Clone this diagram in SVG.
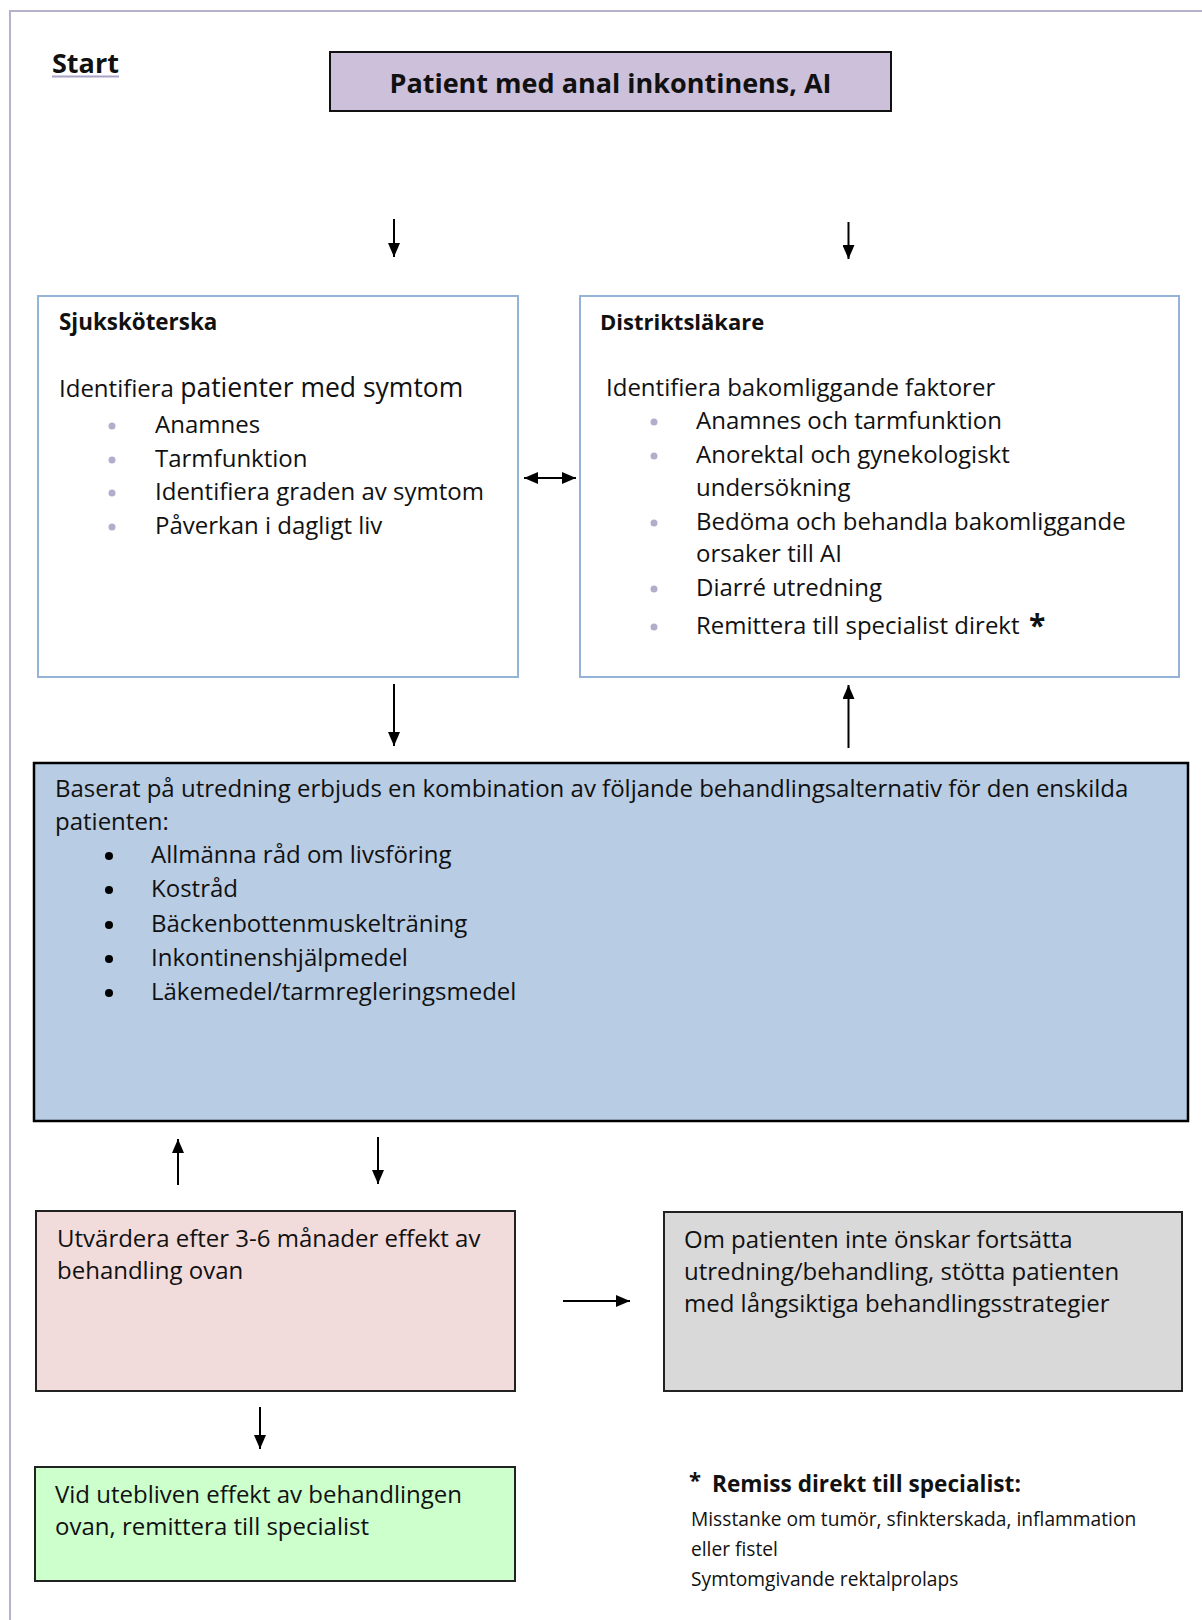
<svg xmlns="http://www.w3.org/2000/svg" width="1202" height="1620" viewBox="0 0 1202 1620">
<defs>
<style>
text{font-family:"Open Sans","Noto Sans",Lato,sans-serif;fill:#111;}
.b{font-weight:bold;}
.t{font-size:24px;}
.bl{font-size:24px;}
.fn{font-size:19.2px;}
.conn line{stroke:#000;stroke-width:2;}
.dot{fill:#b1aecb;}
.bdot{fill:#000;}
</style>
<marker id="ah" viewBox="0 0 14 12" refX="14" refY="6" markerWidth="14" markerHeight="12" markerUnits="userSpaceOnUse" orient="auto-start-reverse">
<path d="M0,0 L14,6 L0,12 z" fill="#000"/>
</marker>
</defs>
<rect width="1202" height="1620" fill="#fff"/>
<path d="M10,1620 V11 H1202" fill="none" stroke="#b4b2cc" stroke-width="2"/>

<g id="start">
<text class="b" x="52" y="73" font-size="27">Start</text>
<line x1="52" y1="76.5" x2="119" y2="76.5" stroke="#a7a4c8" stroke-width="2"/>
</g>

<g id="patient">
<rect x="330" y="52" width="561" height="59" fill="#ccc0da" stroke="#111" stroke-width="2"/>
<text class="b" x="610.5" y="93" font-size="27" text-anchor="middle">Patient med anal inkontinens, AI</text>
</g>

<g id="sjukskoterska">
<rect x="38" y="296" width="480" height="381" fill="#fff" stroke="#95b3d7" stroke-width="2"/>
<text class="b" x="59" y="330" font-size="22.4">Sjuksköterska</text>
<text x="59" y="397"><tspan font-size="24">Identifiera </tspan><tspan font-size="26.5">patienter med symtom</tspan></text>
<circle class="dot" cx="112" cy="426" r="3.5"/>
<circle class="dot" cx="112" cy="460" r="3.5"/>
<circle class="dot" cx="112" cy="493" r="3.5"/>
<circle class="dot" cx="112" cy="527" r="3.5"/>
<text class="t" x="155" y="433">Anamnes</text>
<text class="t" x="155" y="467">Tarmfunktion</text>
<text class="t" x="155" y="500">Identifiera graden av symtom</text>
<text class="t" x="155" y="534">Påverkan i dagligt liv</text>
</g>

<g id="distriktslakare">
<rect x="580" y="296" width="599" height="381" fill="#fff" stroke="#95b3d7" stroke-width="2"/>
<text class="b" x="600" y="330" font-size="22">Distriktsläkare</text>
<text class="t" x="606" y="396">Identifiera bakomliggande faktorer</text>
<circle class="dot" cx="654" cy="422" r="3.5"/>
<circle class="dot" cx="654" cy="456" r="3.5"/>
<circle class="dot" cx="654" cy="523" r="3.5"/>
<circle class="dot" cx="654" cy="589" r="3.5"/>
<circle class="dot" cx="654" cy="627" r="3.5"/>
<text class="t" x="696" y="429">Anamnes och tarmfunktion</text>
<text class="t" x="696" y="463">Anorektal och gynekologiskt</text>
<text class="t" x="696" y="496">undersökning</text>
<text class="t" x="696" y="530">Bedöma och behandla bakomliggande</text>
<text class="t" x="696" y="562">orsaker till AI</text>
<text class="t" x="696" y="596">Diarré utredning</text>
<text class="t" x="696" y="634">Remittera till specialist direkt</text>
<text class="b" x="1029" y="636" font-size="30">*</text>
</g>

<g id="behandling">
<rect x="34" y="763" width="1154" height="358" fill="#b8cce4" stroke="#000" stroke-width="2.5"/>
<text class="bl" x="55" y="797">Baserat på utredning erbjuds en kombination av följande behandlingsalternativ för den enskilda</text>
<text class="bl" x="55" y="830">patienten:</text>
<circle class="bdot" cx="109" cy="856" r="4"/>
<circle class="bdot" cx="109" cy="890" r="4"/>
<circle class="bdot" cx="109" cy="925" r="4"/>
<circle class="bdot" cx="109" cy="959" r="4"/>
<circle class="bdot" cx="109" cy="993" r="4"/>
<text class="bl" x="151" y="863">Allmänna råd om livsföring</text>
<text class="bl" x="151" y="897">Kostråd</text>
<text class="bl" x="151" y="932">Bäckenbottenmuskelträning</text>
<text class="bl" x="151" y="966">Inkontinenshjälpmedel</text>
<text class="bl" x="151" y="1000">Läkemedel/tarmregleringsmedel</text>
</g>

<g id="utvardera">
<rect x="36" y="1211" width="479" height="180" fill="#f2dcdb" stroke="#222" stroke-width="2"/>
<text class="t" x="57" y="1247">Utvärdera efter 3-6 månader effekt av</text>
<text class="t" x="57" y="1279">behandling ovan</text>
</g>

<g id="langsiktig">
<rect x="664" y="1212" width="518" height="179" fill="#d9d9d9" stroke="#222" stroke-width="2"/>
<text class="t" x="684" y="1248">Om patienten inte önskar fortsätta</text>
<text class="t" x="684" y="1280">utredning/behandling, stötta patienten</text>
<text class="t" x="684" y="1312">med långsiktiga behandlingsstrategier</text>
</g>

<g id="remittera">
<rect x="35" y="1467" width="480" height="114" fill="#ccffcc" stroke="#222" stroke-width="2"/>
<text class="t" x="55" y="1503">Vid utebliven effekt av behandlingen</text>
<text class="t" x="55" y="1535">ovan, remittera till specialist</text>
</g>

<g id="fotnot">
<text class="b" x="689" y="1488" font-size="22">*</text>
<text class="b" x="712" y="1492" font-size="22.6">Remiss direkt till specialist:</text>
<text class="fn" x="691" y="1526">Misstanke om tumör, sfinkterskada, inflammation</text>
<text class="fn" x="691" y="1556">eller fistel</text>
<text class="fn" x="691" y="1586">Symtomgivande rektalprolaps</text>
</g>

<g id="connectors" class="conn">
<line x1="394" y1="219" x2="394" y2="257" marker-end="url(#ah)"/>
<line x1="848.5" y1="222" x2="848.5" y2="259" marker-end="url(#ah)"/>
<line x1="524" y1="478" x2="576" y2="478" marker-start="url(#ah)" marker-end="url(#ah)"/>
<line x1="394" y1="684" x2="394" y2="746" marker-end="url(#ah)"/>
<line x1="848.5" y1="748" x2="848.5" y2="685" marker-end="url(#ah)"/>
<line x1="178" y1="1185" x2="178" y2="1139" marker-end="url(#ah)"/>
<line x1="378" y1="1137" x2="378" y2="1184" marker-end="url(#ah)"/>
<line x1="563" y1="1301" x2="630" y2="1301" marker-end="url(#ah)"/>
<line x1="260" y1="1407" x2="260" y2="1449" marker-end="url(#ah)"/>
</g>
</svg>
